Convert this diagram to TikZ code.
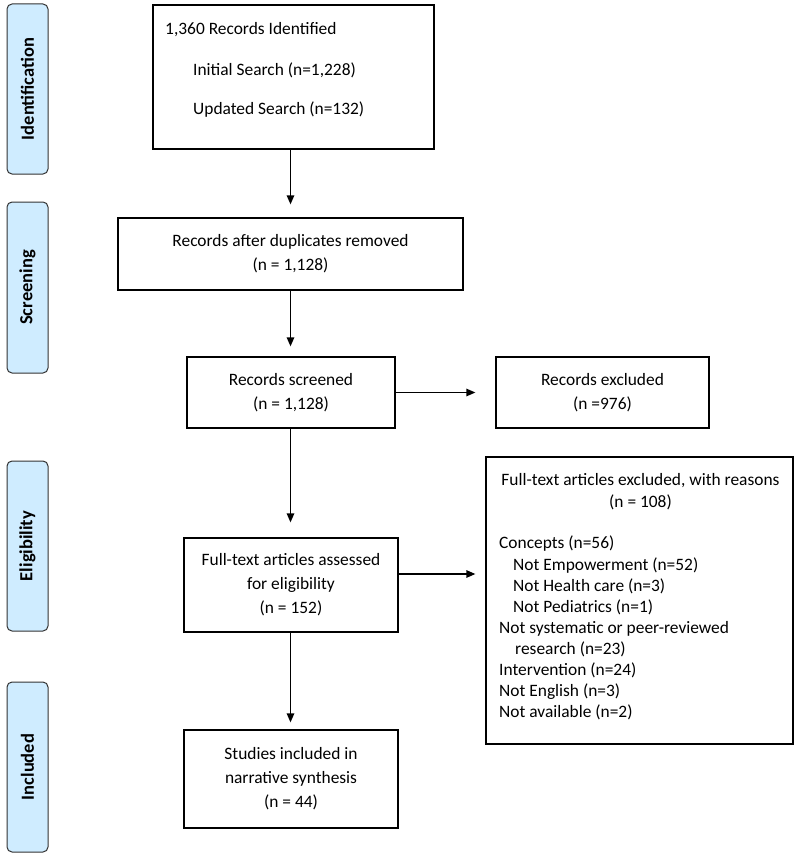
\documentclass[tikz,border=0pt]{standalone}
\usepackage{fontspec}
\setmainfont{Carlito}
\usetikzlibrary{arrows.meta}
\pgfdeclarelayer{edgelayer}
\pgfdeclarelayer{nodelayer}
\pgfsetlayers{edgelayer,nodelayer,main}
\definecolor{stageblue}{RGB}{207,236,255}
\tikzset{font=\fontsize{17.4}{24}\selectfont}
\tikzstyle{stage}=[draw=black!80, fill=stageblue, rounded corners=5pt, line width=1pt, rotate=90, minimum height=41pt, inner sep=0pt, font=\fontsize{18.5}{20}\selectfont\bfseries]
\tikzstyle{box}=[draw, line width=1.3pt, inner sep=0pt, align=center]
\tikzstyle{line}=[inner sep=0pt]
\tikzstyle{flow}=[line width=1.3pt, -{Triangle[length=9pt,width=7.5pt]}]

\begin{document}
\begin{tikzpicture}[x=1pt, y=-1pt]
	\useasboundingbox (0, 0) rectangle (800, 859);
	\begin{pgfonlayer}{nodelayer}
		% phases
		\node [style=stage, minimum width=170pt] (ident) at (27.5, 89) {Identification};
		\node [style=stage, minimum width=171pt] (screen) at (27.5, 287.5) {Screening};
		\node [style=stage, minimum width=170pt] (elig) at (27.5, 546) {Eligibility};
		\node [style=stage, minimum width=170pt] (incl) at (27.5, 767) {Included};
		% boxes
		\node [style=box, minimum width=281pt, minimum height=144pt] (idbox) at (293.5, 77) {};
		\node [style=line, anchor=base west] (idall) at (165, 35) {1,360 Records Identified};
		\node [style=line, anchor=base west] (idinit) at (193, 75.5) {Initial Search (n=1,228)};
		\node [style=line, anchor=base west] (idupd) at (193, 114.5) {Updated Search (n=132)};
		\node [style=box, minimum width=345pt, minimum height=72pt] (dupbox) at (290.5, 254) {Records after duplicates removed\\(n = 1,128)};
		\node [style=box, minimum width=208pt, minimum height=71pt] (scrbox) at (291, 392.5) {Records screened\\(n = 1,128)};
		\node [style=box, minimum width=213pt, minimum height=71pt] (exclbox) at (602.5, 392.5) {Records excluded\\(n =976)};
		\node [style=box, minimum width=214pt, minimum height=94pt] (fullbox) at (291, 585) {Full-text articles assessed\\for eligibility\\(n = 152)};
		\node [style=box, minimum width=214pt, minimum height=98pt] (inclbox) at (291, 779) {Studies included in\\narrative synthesis\\(n = 44)};
		\node [style=box, minimum width=307pt, minimum height=287pt] (rsnbox) at (639.5, 600.5) {};
		\node [style=line, anchor=base] (rsnhead) at (640.5, 485.5) {Full-text articles excluded, with reasons};
		\node [style=line, anchor=base] (rsnn) at (640.5, 507.5) {(n = 108)};
		\node [style=line, anchor=base west] (rsn1) at (499, 548.5) {Concepts (n=56)};
		\node [style=line, anchor=base west] (rsn2) at (513, 570) {Not Empowerment (n=52)};
		\node [style=line, anchor=base west] (rsn3) at (513, 591) {Not Health care (n=3)};
		\node [style=line, anchor=base west] (rsn4) at (513, 612) {Not Pediatrics (n=1)};
		\node [style=line, anchor=base west] (rsn5) at (499, 633) {Not systematic or peer-reviewed};
		\node [style=line, anchor=base west] (rsn6) at (515, 654) {research (n=23)};
		\node [style=line, anchor=base west] (rsn7) at (499, 675.5) {Intervention (n=24)};
		\node [style=line, anchor=base west] (rsn8) at (499, 696.5) {Not English (n=3)};
		\node [style=line, anchor=base west] (rsn9) at (499, 717.5) {Not available (n=2)};
		\coordinate (axis) at (290.5, 0);
	\end{pgfonlayer}
	\begin{pgfonlayer}{edgelayer}
		\draw [style=flow, shorten >=13pt] (idbox.south -| axis) to (dupbox.north -| axis);
		\draw [style=flow, shorten >=10pt] (dupbox.south -| axis) to (scrbox.north -| axis);
		\draw [style=flow, shorten >=15pt] (scrbox.south -| axis) to (fullbox.north -| axis);
		\draw [style=flow, shorten >=7pt] (fullbox.south -| axis) to (inclbox.north -| axis);
		\draw [style=flow, shorten >=20pt] (scrbox.east) to (exclbox.west);
		\draw [style=flow, shorten >=10pt] ([yshift=11pt]fullbox.east) to ([yshift=11pt]fullbox.east -| rsnbox.west);
	\end{pgfonlayer}
\end{tikzpicture}
\end{document}
